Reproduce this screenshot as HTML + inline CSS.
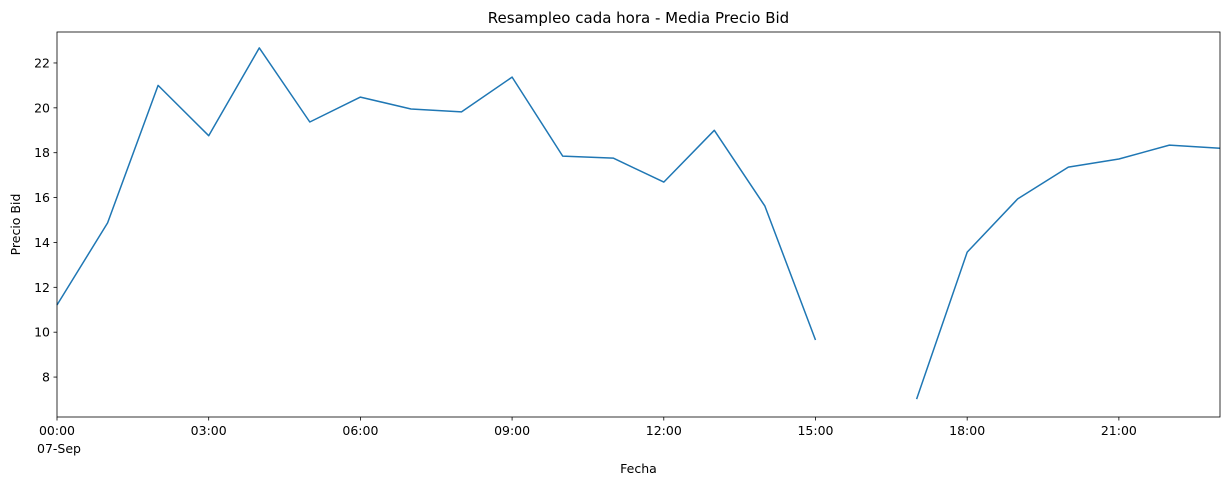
<!DOCTYPE html>
<html><head><meta charset="utf-8"><style>
body{margin:0;background:#fff;font-family:"DejaVu Sans","Liberation Sans",sans-serif}
</style></head><body>
<svg id="chart" width="1229" height="486" xmlns="http://www.w3.org/2000/svg" font-family="DejaVu Sans, Liberation Sans, sans-serif"></svg>
<script>
const hours=[0,1,2,3,4,5,6,7,8,9,10,11,12,13,14,15,16,17,18,19,20,21,22,23];
const bidValues=[11.21,14.87,21.0,18.76,22.67,19.37,20.48,19.95,19.82,21.37,17.85,17.76,16.69,19.0,15.62,9.65,null,7.02,13.57,15.94,17.36,17.72,18.34,18.2];
const yTicks=[8,10,12,14,16,18,20,22];
const xTickHours=[0,3,6,9,12,15,18,21];
const xTickLabels=["00:00","03:00","06:00","09:00","12:00","15:00","18:00","21:00"];
const L=57,R=1220,T=32,B=417,xMin=0,xMax=23,yMin=6.22,yMax=23.38;
const sx=h=>L+(h-xMin)/(xMax-xMin)*(R-L);
const sy=v=>B-(v-yMin)/(yMax-yMin)*(B-T);
const svg=document.getElementById('chart');const NS='http://www.w3.org/2000/svg';
function mk(tag,attrs,txt){const e=document.createElementNS(NS,tag);for(const k in attrs)e.setAttribute(k,attrs[k]);if(txt!=null)e.textContent=txt;svg.appendChild(e);return e;}
let d='',pen=false;
hours.forEach((h,i)=>{const v=bidValues[i];if(v==null){pen=false;return;}d+=(pen?'L':'M')+sx(h).toFixed(1)+' '+sy(v).toFixed(1);pen=true;});
const line=mk('path',{d:d,fill:'none',stroke:'#1f77b4','stroke-width':1.5,'stroke-linejoin':'round'});


const frame=mk('rect',{x:L,y:T,width:R-L,height:B-T,fill:'none',stroke:'#000','stroke-width':0.8});


yTicks.forEach(v=>{const y=sy(v);mk('line',{x1:L-3.5,x2:L,y1:y,y2:y,stroke:'#000','stroke-width':0.8});
const t=mk('text',{x:L-7,y:y+4.5,'text-anchor':'end','font-size':12.5},String(v));

});
xTickHours.forEach((h,i)=>{const x=sx(h);mk('line',{x1:x,x2:x,y1:B,y2:B+3.5,stroke:'#000','stroke-width':0.8});
const t=mk('text',{x:x,y:B+18,'text-anchor':'middle','font-size':12.5},xTickLabels[i]);

});
const dl=mk('text',{x:L-20,y:B+36,'font-size':12.5},'07-Sep');


const xt=mk('text',{x:(L+R)/2,y:473,'text-anchor':'middle','font-size':12.5},'Fecha');


const yt=mk('text',{x:20,y:(T+B)/2,'text-anchor':'middle','font-size':12.5,transform:`rotate(-90 20 ${(T+B)/2})`},'Precio Bid');


const tt=mk('text',{x:(L+R)/2,y:23,'text-anchor':'middle','font-size':15},'Resampleo cada hora - Media Precio Bid');


</script>
</body></html>
